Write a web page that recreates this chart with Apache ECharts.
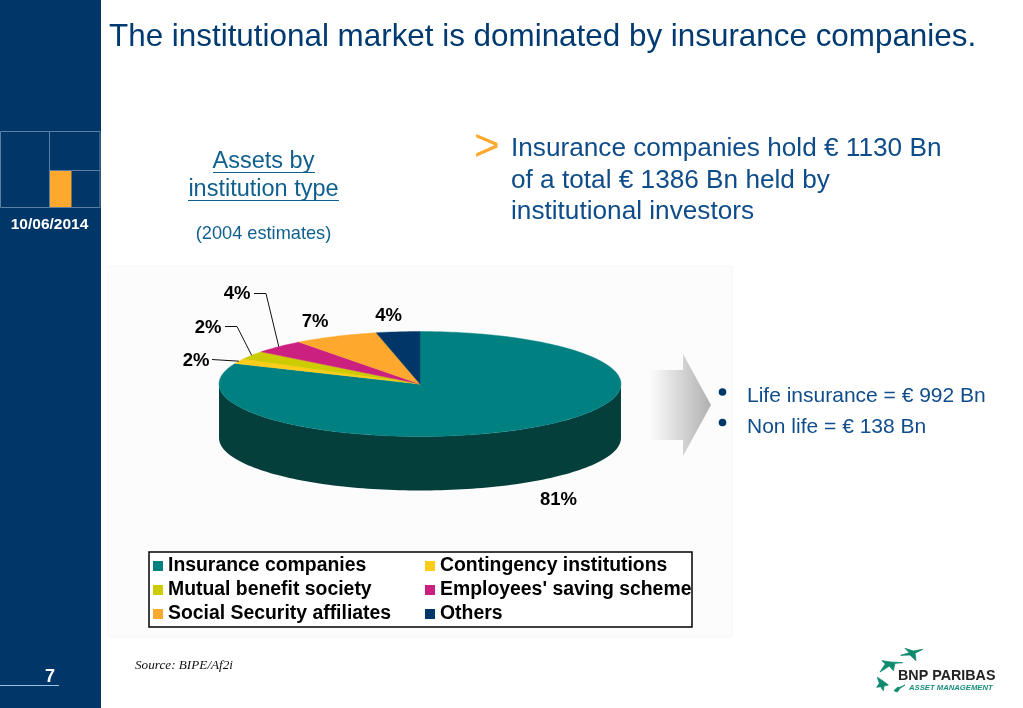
<!DOCTYPE html>
<html><head><meta charset="utf-8">
<style>html,body{margin:0;padding:0;background:#fff}#c{width:1023px;height:708px}</style>
<script src="https://cdn.jsdelivr.net/npm/echarts@6/dist/echarts.min.js"></script>
</head><body><div id="c"></div>
<script>
const categories = ['Insurance companies','Contingency institutions','Mutual benefit society',"Employees' saving scheme",'Social Security affiliates','Others'];
const shares = [81.4,1.5,2.6,4.2,6.8,3.5];
const shownLabels = ['81%','2%','2%','4%','7%','4%'];
const colors = ['#008080','#FFCC1A','#CCCC00','#CC2080','#FFA82E','#003768'];
const wallColors = ['#053F3C','#806610','#666600','#661040','#805417','#001C34'];

const NAVY='#003768', BLUE='#0F4C8A', FONT='"Liberation Sans",Arial,sans-serif';
const PIE={cx:420,cy:384,rx:201,ry:52.5,depth:54};
const total=shares.reduce((a,b)=>a+b,0);
const startOf=i=>shares.slice(0,i).reduce((a,b)=>a+b,0)/total*360;
const rim=(deg,dy)=>{const r=deg*Math.PI/180;return [PIE.cx+PIE.rx*Math.sin(r),PIE.cy-PIE.ry*Math.cos(r)+(dy||0)];};
const arc=(a,b,dy)=>{const n=Math.max(2,Math.ceil((b-a)/1.5)),p=[];for(let k=0;k<=n;k++)p.push(rim(a+(b-a)*k/n,dy));return p;};

// label placement: centre of text, and optional leader route ending on the rim
const labelPlace=[
 {x:558.5,y:500},
 {x:196,y:361,leader:[[212,359.5]]},
 {x:208,y:328,leader:[[225,326.5],[237,326.5]]},
 {x:237,y:294,leader:[[254,293.5],[266,293.5]]},
 {x:315,y:322},
 {x:388.5,y:316}
];

function sliceItem(i){
  return function(){
    const a=startOf(i),b=a+shares[i]/total*360,children=[];
    const fa=Math.max(a,90),fb=Math.min(b,270);
    if(fb>fa){
      children.push({type:'polygon',shape:{points:arc(fa,fb,0).concat(arc(fa,fb,PIE.depth).reverse())},style:{fill:wallColors[i]}});
    }
    children.push({type:'polygon',shape:{points:[[PIE.cx,PIE.cy]].concat(arc(a,b,0))},style:{fill:colors[i],stroke:colors[i],lineWidth:0.4}});
    const lp=labelPlace[i];
    if(lp.leader){
      const mid=rim((a+b)/2,0);
      children.push({type:'polyline',z2:20,shape:{points:lp.leader.concat([mid])},style:{fill:null,stroke:'#111',lineWidth:1}});
    }
    children.push({type:'text',z2:20,x:lp.x,y:lp.y,style:{text:shownLabels[i],fill:'#000',font:'bold 18.5px '+FONT,align:'center',verticalAlign:'middle'}});
    return {type:'group',children};
  };
}

const T=(x,y,text,o)=>Object.assign({type:'text',x,y,style:Object.assign({text,fill:BLUE,font:'21px '+FONT,verticalAlign:'middle'},o||{})});
const L=(x1,y1,x2,y2,color,w)=>({type:'line',shape:{x1,y1,x2,y2},style:{stroke:color,lineWidth:w||1}});
const bird=(pts)=>({type:'polygon',shape:{points:pts.map(p=>[860+p[0]/3,640+p[1]/3])},style:{fill:'#0E8A70',stroke:'#0E8A70',lineWidth:0.8}});
const GRID='#5C7FA3';

const graphicEls=[
 {type:'rect',z:-10,shape:{x:0,y:0,width:101,height:708},style:{fill:NAVY}},
 {type:'rect',z:-10,shape:{x:108,y:266,width:624,height:371},style:{fill:'#FCFCFC',stroke:'#F6F6F6'}},
 {type:'rect',shape:{x:50,y:171,width:21.5,height:36},style:{fill:'#FFA82E'}},
 {type:'rect',shape:{x:0.5,y:131.5,width:99.5,height:76},style:{fill:null,stroke:GRID}},
 L(49.5,131,49.5,207,GRID), L(49.5,170.5,100,170.5,GRID),
 T(49.5,225,'10/06/2014',{fill:'#fff',font:'bold 15.5px '+FONT,align:'center'}),
 T(50,677,'7',{fill:'#fff',font:'bold 18px '+FONT,align:'center'}),
 L(0,685.5,59,685.5,'#9CC3E6'),
 T(109,37.5,'The institutional market is dominated by insurance companies.',{fill:'#003A70',font:'31.4px '+FONT}),
 T(263.5,162,'Assets by',{fill:'#0F5F8F',font:'23.5px '+FONT,align:'center'}),
 T(263.5,190,'institution type',{fill:'#0F5F8F',font:'23.5px '+FONT,align:'center'}),
 L(213,172.5,315,172.5,'#0F5F8F'), L(188,200.5,339,200.5,'#0F5F8F'),
 T(263.5,233.5,'(2004 estimates)',{fill:'#0F5F8F',font:'18.2px '+FONT,align:'center'}),
 T(474,148,'>',{fill:'#FFA82E',font:'44px '+FONT}),
 T(511,148.5,'Insurance companies hold € 1130 Bn',{font:'26.2px '+FONT}),
 T(511,180.5,'of a total € 1386 Bn held by',{font:'26.2px '+FONT}),
 T(511,211.5,'institutional investors',{font:'26.2px '+FONT}),
 {type:'polygon',shape:{points:[[650,370],[683,370],[683,354],[711,405],[683,456],[683,440],[650,440]]},
  style:{fill:new echarts.graphic.LinearGradient(0,0,1,0,[{offset:0,color:'#FCFCFC'},{offset:1,color:'#B0B0B0'}])}},
 {type:'circle',shape:{cx:722.5,cy:392,r:3.8},style:{fill:NAVY}},
 {type:'circle',shape:{cx:722.5,cy:422.5,r:3.8},style:{fill:NAVY}},
 T(747,396,'Life insurance = € 992 Bn'),
 T(747,427,'Non life = € 138 Bn'),
 T(135,666,'Source: BIPE/Af2i',{fill:'#111',font:'italic 13.2px "Liberation Serif",serif'}),
 {type:'rect',shape:{x:149,y:552,width:543,height:75},style:{fill:'#fff',stroke:'#000',lineWidth:1.5},z:-5},
 bird([[188,28],[165,40],[168,62],[150,45],[122,46],[148,38],[135,25],[160,33]]),
 bird([[128,68],[105,70],[100,92],[88,78],[60,96],[76,72],[66,62],[92,66]]),
 bird([[85,135],[72,138],[70,152],[62,140],[50,142],[58,130],[52,112],[68,122]]),
 bird([[135,135],[120,145],[112,156],[102,152],[112,142],[120,142]]),
 T(898,676.5,'BNP PARIBAS',{fill:'#222',font:'bold 14.3px '+FONT}),
 T(909,688,'ASSET MANAGEMENT',{fill:'#1B8F7A',font:'italic bold 7.7px '+FONT})
];

const legendText={color:'#000',fontFamily:'"Liberation Sans",Arial,sans-serif',fontWeight:'bold',fontSize:19.4};
const option={
 animation:false,
 graphic:{elements:graphicEls},
 legend:[
  {orient:'vertical',left:153,top:556.5,itemWidth:10,itemHeight:10,itemGap:5,padding:0,selectedMode:false,icon:'rect',textStyle:legendText,
   data:[categories[0],categories[2],categories[4]]},
  {orient:'vertical',left:425,top:556.5,itemWidth:10,itemHeight:10,itemGap:5,padding:0,selectedMode:false,icon:'rect',textStyle:legendText,
   data:[categories[1],categories[3],categories[5]]}
 ],
 series:categories.map((name,i)=>({
  type:'custom',name,coordinateSystem:'none',silent:true,data:[shares[i]],
  itemStyle:{color:colors[i]},renderItem:sliceItem(i)
 }))
};
echarts.init(document.getElementById('c')).setOption(option);
</script></body></html>
